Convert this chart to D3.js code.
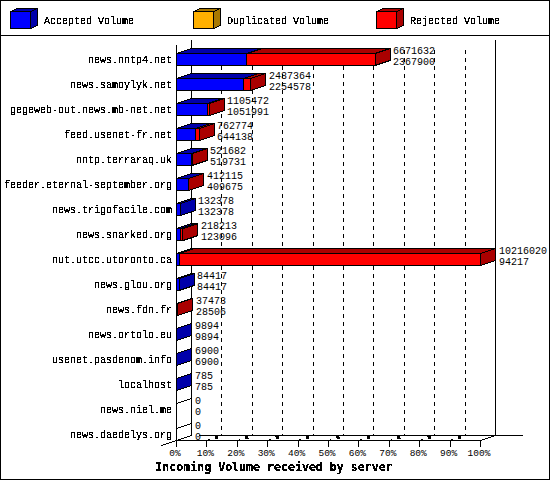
<!DOCTYPE html>
<html>
<head>
<meta charset="utf-8">
<script src="https://cdn.jsdelivr.net/npm/d3@7"></script>
<style>
  html, body { margin: 0; padding: 0; background: #fff; }
  svg { display: block; }
  text { font-family: "Liberation Mono", monospace; font-size: 10px; fill: #000; }
  .bitmap { filter: url(#crisp); }
</style>
</head>
<body>
<div id="chart"></div>
<script>
var servers = ["news.nntp4.net", "news.samoylyk.net", "gegeweb-out.news.mb-net.net",
  "feed.usenet-fr.net", "nntp.terraraq.uk", "feeder.eternal-september.org",
  "news.trigofacile.com", "news.snarked.org", "nut.utcc.utoronto.ca", "news.glou.org",
  "news.fdn.fr", "news.ortolo.eu", "usenet.pasdenom.info", "localhost", "news.niel.me",
  "news.daedelys.org"];
var totalVolume = [6671632, 2487364, 1105472, 762774, 521682, 412115, 132378, 218213,
  10216020, 84417, 37473, 9894, 6900, 785, 0, 0];
var acceptedVolume = [2367900, 2254578, 1051991, 644138, 519731, 409675, 132378, 123096,
  94217, 84417, 28506, 9894, 6900, 785, 0, 0];
var percentTicks = [0, 10, 20, 30, 40, 50, 60, 70, 80, 90, 100];
var legendNames = ["Accepted Volume", "Duplicated Volume", "Rejected Volume"];
var legendColors = [["#0000ff", "#0000aa"], ["#ffb000", "#a87800"], ["#ff0000", "#aa0000"]];
var title = "Incoming Volume received by server";

var width = 550, height = 480;
var dx = 15, dy = -5;           // depth of the 3d effect
var barH = 12;
var floorY = 440.5;

var svg = d3.select("#chart").append("svg")
    .attr("width", width).attr("height", height);

// threshold the glyph alpha so text looks like the bitmap font of the original
svg.append("defs").append("filter").attr("id", "crisp")
    .attr("x", 0).attr("y", 0).attr("width", 1).attr("height", 1)
  .append("feComponentTransfer").append("feFuncA")
    .attr("type", "discrete").attr("tableValues", "0 1 1");

var x = d3.scaleLinear().domain([0, d3.max(totalVolume)]).range([176.5, 480.5]);
var xPct = d3.scaleLinear().domain([0, 100]).range([176.5, 480.5]);
var y = d3.scalePoint().domain(servers).range([59, 434]);

function line(g, x1, y1, x2, y2) {
  return g.append("line").attr("x1", x1).attr("y1", y1).attr("x2", x2).attr("y2", y2)
      .attr("stroke", "#000").attr("shape-rendering", "crispEdges");
}

function box(g, x0, x1, top, h, front, dark, side) {
  var d = "M" + x0 + "," + top + "l" + dx + "," + dy + "L" + (x1 + dx) + "," + (top + dy) + "L" + x1 + "," + top + "Z";
  g.append("path").attr("d", d).attr("fill", dark).attr("stroke", "#000").attr("shape-rendering", "crispEdges");
  if (side) {
    g.append("path")
        .attr("d", "M" + x1 + "," + top + "l" + dx + "," + dy + "v" + h + "l" + (-dx) + "," + (-dy) + "Z")
        .attr("fill", dark).attr("stroke", "#000").attr("shape-rendering", "crispEdges");
  }
  g.append("rect").attr("x", x0).attr("y", top).attr("width", x1 - x0).attr("height", h)
      .attr("fill", front).attr("stroke", "#000").attr("shape-rendering", "crispEdges");
}

// frame and legend
svg.append("rect").attr("x", 0.5).attr("y", 0.5).attr("width", width - 1).attr("height", height - 1)
    .attr("fill", "#fff").attr("stroke", "#000").attr("shape-rendering", "crispEdges");
line(svg, 0, 35.5, width, 35.5);

var legend = svg.append("g");
[10, 193, 376].forEach(function (lx, i) {
  var g = legend.append("g");
  g.append("path")
      .attr("d", "M" + (lx + .5) + ",11.5l7,-3h20l-7,3Z")
      .attr("fill", legendColors[i][1]).attr("stroke", "#000").attr("shape-rendering", "crispEdges");
  g.append("path")
      .attr("d", "M" + (lx + 20.5) + ",11.5l7,-3v17l-7,3Z")
      .attr("fill", legendColors[i][1]).attr("stroke", "#000").attr("shape-rendering", "crispEdges");
  g.append("rect").attr("x", lx + .5).attr("y", 11.5).attr("width", 20).attr("height", 17)
      .attr("fill", legendColors[i][0]).attr("stroke", "#000").attr("shape-rendering", "crispEdges");
  g.append("text").attr("class", "bitmap").attr("x", lx + 34).attr("y", 24).text(legendNames[i]);
});

// back wall, grid lines
var wall = svg.append("g");
percentTicks.slice(1, -1).forEach(function (p) {
  line(wall, xPct(p) + dx, 50, xPct(p) + dx, floorY + dy).attr("stroke-dasharray", "4 4");
});
line(wall, xPct(0), 44.5, xPct(0), floorY);
line(wall, xPct(0) + dx, 40, xPct(0) + dx, floorY + dy);
line(wall, xPct(100) + dx, 40, xPct(100) + dx, floorY + dy);
line(wall, 199, floorY + dy, 523, floorY + dy);
line(wall, xPct(0) - dx, floorY - dy, xPct(0) + dx, floorY + dy);
line(wall, xPct(100), floorY, xPct(100) + dx, floorY + dy);
// short floor marks between the two axes
percentTicks.slice(1, -1).forEach(function (p) {
  line(wall, xPct(p), floorY, xPct(p) + 3, floorY - 1);
  line(wall, xPct(p) + 8, floorY - 2.5, xPct(p) + 11, floorY - 3.5).attr("stroke-width", 3);
});

// bars, accepted part then rejected part on top of it
var bars = svg.append("g");
servers.forEach(function (name, i) {
  var top = y(name) - barH / 2 + .5;
  var g = bars.append("g");
  if (totalVolume[i] === 0) {
    line(g, x(0), top, x(0) + dx, top + dy);
    return;
  }
  var mid = x(acceptedVolume[i]), end = x(totalVolume[i]);
  var onlyAccepted = totalVolume[i] === acceptedVolume[i];
  box(g, x(0), mid, top, barH, legendColors[0][0], legendColors[0][1], onlyAccepted);
  if (!onlyAccepted) box(g, mid, end, top, barH, legendColors[2][0], legendColors[2][1], true);
});

// value labels, no background: grid lines run through them
// left unfiltered, the digits clog up when thresholded
var values = svg.append("g");
servers.forEach(function (name, i) {
  var lx = Math.round(x(totalVolume[i]) + dx + 3);
  values.append("text").attr("x", lx).attr("y", y(name) - 5).text(totalVolume[i]);
  values.append("text").attr("x", lx).attr("y", y(name) + 6).text(acceptedVolume[i]);
});

// axes
var yAxis = svg.append("g").attr("class", "bitmap").attr("transform", "translate(176.5,0)")
    .call(d3.axisLeft(y).tickSize(0).tickPadding(4.5).offset(0));
yAxis.select(".domain").remove();
yAxis.selectAll("text").attr("font-family", null).attr("dy", "3.5");

var xAxis = svg.append("g").attr("transform", "translate(0," + floorY + ")")
    .call(d3.axisBottom(xPct).tickValues(percentTicks).tickSize(6).tickSizeOuter(0)
        .tickPadding(3).offset(0).tickFormat(function (d) { return d + "%"; }));
xAxis.attr("font-size", null).attr("font-family", null);
xAxis.select(".domain").attr("stroke", "#000").attr("shape-rendering", "crispEdges");
xAxis.selectAll("line").attr("stroke", "#000").attr("shape-rendering", "crispEdges");
xAxis.selectAll("text").attr("dx", "-1.5").style("font-size", "9.5px");

svg.append("text").attr("class", "bitmap").attr("x", 274).attr("y", 471)
    .attr("text-anchor", "middle")
    .style("font-family", "'DejaVu Sans Mono'")
    .style("font-weight", "bold").style("font-size", "11.6px")
    .text(title);
</script>
</body>
</html>
